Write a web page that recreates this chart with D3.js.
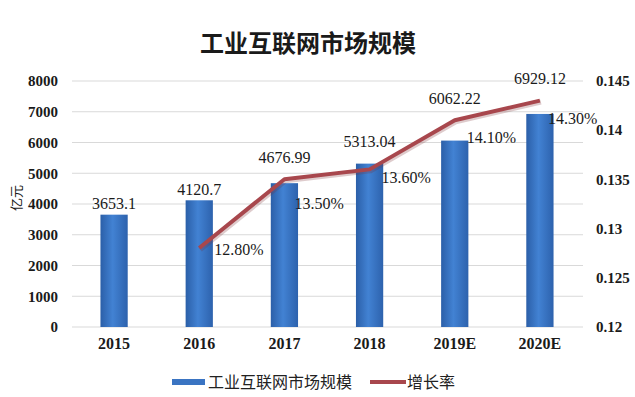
<!DOCTYPE html>
<html>
<head>
<meta charset="utf-8">
<script src="https://cdn.jsdelivr.net/npm/d3@7"></script>
<style>
  body { margin: 0; background: #fff; }
  svg { display: block; }
</style>
</head>
<body>
<script>
// chart data
const years = ["2015", "2016", "2017", "2018", "2019E", "2020E"];
const marketSize = [3653.1, 4120.7, 4676.99, 5313.04, 6062.22, 6929.12];
const growthYears = ["2016", "2017", "2018", "2019E", "2020E"];
const growthRate = [0.128, 0.135, 0.136, 0.141, 0.143];
const growthLabels = ["12.80%", "13.50%", "13.60%", "14.10%", "14.30%"];
const leftTicks = [0, 1000, 2000, 3000, 4000, 5000, 6000, 7000, 8000];
const rightTicks = [0.12, 0.125, 0.13, 0.135, 0.14, 0.145];

// hand-placed nudges for the % labels (dx, dy), like dragged excel labels
const pctNudge = [[15, 1], [10, 24], [12, 8], [12, 17], [8, 18]];

const width = 635, height = 397;

const svg = d3.select("body").append("svg")
  .attr("width", width)
  .attr("height", height);

// bar gradient
const defs = svg.append("defs");
const grad = defs.append("linearGradient")
  .attr("id", "barGrad")
  .attr("x1", "0%").attr("x2", "100%").attr("y1", "0%").attr("y2", "0%");
grad.append("stop").attr("offset", "0%").attr("stop-color", "#2b5fa8");
grad.append("stop").attr("offset", "45%").attr("stop-color", "#4282d3");
grad.append("stop").attr("offset", "100%").attr("stop-color", "#2d62ad");

const x = d3.scaleBand()
  .domain(years)
  .range([71.5, 582.5])
  .paddingInner(0.68)
  .paddingOuter(0.34);

const yLeft = d3.scaleLinear().domain([0, 8000]).range([327, 81]);
const yRight = d3.scaleLinear().domain([0.12, 0.145]).range([326.5, 81]);

// title
svg.append("text")
  .attr("x", 308)
  .attr("y", 52)
  .attr("text-anchor", "middle")
  .style("font-family", "'Noto Sans CJK SC', sans-serif")
  .style("font-weight", "bold")
  .style("font-size", "24px")
  .style("fill", "#1a1a1a")
  .text("工业互联网市场规模");

// gridlines
svg.append("g")
  .selectAll("line")
  .data(leftTicks)
  .enter()
  .append("line")
  .attr("x1", 72)
  .attr("x2", 583)
  .attr("y1", d => yLeft(d))
  .attr("y2", d => yLeft(d))
  .attr("stroke", "#d9d9d9")
  .attr("stroke-width", 1);

// left axis
const leftAxis = d3.axisLeft(yLeft).tickValues(leftTicks).tickSize(0).tickPadding(0)
  .tickFormat(d3.format("d"));
const gl = svg.append("g")
  .attr("transform", "translate(58,0)")
  .call(leftAxis);
gl.select(".domain").remove();
gl.selectAll("text")
  .style("font-family", "'Liberation Serif', serif")
  .style("font-weight", "bold")
  .style("font-size", "15px")
  .style("fill", "#1a1a1a");

// right axis
const rightAxis = d3.axisRight(yRight).tickValues(rightTicks).tickSize(0).tickPadding(0)
  .tickFormat(d => String(+d.toFixed(3)));
const gr = svg.append("g")
  .attr("transform", "translate(596,0)")
  .call(rightAxis);
gr.select(".domain").remove();
gr.selectAll("text")
  .style("font-family", "'Liberation Serif', serif")
  .style("font-weight", "bold")
  .style("font-size", "15px")
  .style("fill", "#1a1a1a");

// x axis
const xAxis = d3.axisBottom(x).tickSize(0).tickPadding(0);
const gx = svg.append("g")
  .attr("transform", "translate(0,338)")
  .call(xAxis);
gx.select(".domain").remove();
gx.selectAll("text")
  .style("font-family", "'Liberation Serif', serif")
  .style("font-weight", "bold")
  .style("font-size", "16px")
  .style("fill", "#1a1a1a");

// y axis title
svg.append("text")
  .attr("transform", "translate(21,198) rotate(-90)")
  .attr("text-anchor", "middle")
  .style("font-family", "'Noto Sans CJK SC', sans-serif")
  .style("font-size", "13px")
  .style("fill", "#1a1a1a")
  .text("亿元");

// bars
svg.append("g")
  .selectAll("rect")
  .data(marketSize)
  .enter()
  .append("rect")
  .attr("x", (d, i) => x(years[i]))
  .attr("y", d => yLeft(d))
  .attr("width", x.bandwidth())
  .attr("height", d => yLeft(0) - yLeft(d))
  .attr("fill", "url(#barGrad)");

// growth line
const cx = d => x(d) + x.bandwidth() / 2;
const line = d3.line()
  .x((d, i) => cx(growthYears[i]))
  .y(d => yRight(d));

svg.append("path")
  .datum(growthRate)
  .attr("d", line)
  .attr("fill", "none")
  .attr("stroke", "#7a2e33")
  .attr("stroke-opacity", 0.25)
  .attr("stroke-width", 5)
  .attr("stroke-linejoin", "round")
  .attr("transform", "translate(1,1.5)");

svg.append("path")
  .datum(growthRate)
  .attr("d", line)
  .attr("fill", "none")
  .attr("stroke", "#a8474d")
  .attr("stroke-width", 4)
  .attr("stroke-linejoin", "round");

// bar value labels, lifted above the line where it runs close
svg.append("g")
  .selectAll("text")
  .data(marketSize)
  .enter()
  .append("text")
  .attr("x", (d, i) => cx(years[i]))
  .attr("y", (d, i) => {
    const top = yLeft(d);
    const gi = growthYears.indexOf(years[i]);
    if (gi >= 0) {
      const ly = yRight(growthRate[gi]);
      if (ly < top + 10) return Math.min(top, ly) - 22;
    }
    return top - 11;
  })
  .attr("dy", "0.35em")
  .attr("text-anchor", "middle")
  .style("font-family", "'Liberation Serif', serif")
  .style("font-size", "16px")
  .style("fill", "#1a1a1a")
  .text(d => d);

// percent labels
svg.append("g")
  .selectAll("text")
  .data(growthRate)
  .enter()
  .append("text")
  .attr("x", (d, i) => cx(growthYears[i]) + pctNudge[i][0])
  .attr("y", (d, i) => yRight(d) + pctNudge[i][1])
  .attr("dy", "0.35em")
  .style("font-family", "'Liberation Serif', serif")
  .style("font-size", "16px")
  .style("fill", "#1a1a1a")
  .text((d, i) => growthLabels[i]);

// legend
const legend = svg.append("g");
legend.append("rect")
  .attr("x", 172).attr("y", 379)
  .attr("width", 33).attr("height", 6)
  .attr("fill", "#3a74c2");
legend.append("text")
  .attr("x", 208).attr("y", 382)
  .attr("dy", "0.35em")
  .style("font-family", "'Noto Sans CJK SC', sans-serif")
  .style("font-size", "16px")
  .style("fill", "#222")
  .text("工业互联网市场规模");
legend.append("line")
  .attr("x1", 370).attr("x2", 406)
  .attr("y1", 382).attr("y2", 382)
  .attr("stroke", "#a8474d")
  .attr("stroke-width", 4);
legend.append("text")
  .attr("x", 407).attr("y", 382)
  .attr("dy", "0.35em")
  .style("font-family", "'Noto Sans CJK SC', sans-serif")
  .style("font-size", "16px")
  .style("fill", "#222")
  .text("增长率");
</script>
</body>
</html>
